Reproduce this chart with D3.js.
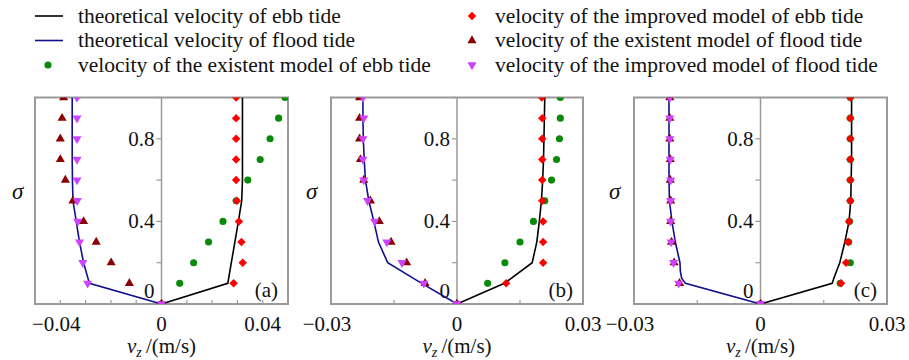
<!DOCTYPE html>
<html><head><meta charset="utf-8">
<script src="https://cdn.jsdelivr.net/npm/d3@7"></script>
</head>
<body style="margin:0;background:#fff">
<svg id="chart" width="909" height="360" style="display:block"></svg>
<script>
// ---------- data ----------
const sigmaPts = [0, 0.1, 0.2, 0.3, 0.4, 0.5, 0.6, 0.7, 0.8, 0.9, 1.0];
const sigmaTheoC = [0, 0.1, 0.125, 0.157, 0.2, 0.3, 0.4, 0.5, 0.6, 0.7, 0.8, 0.9, 1.0];

// panel (a)
const ebbTheoA    = [0, 0.0262, 0.0276, 0.029, 0.0304, 0.0317, 0.032, 0.032, 0.032, 0.032, 0.032];
const floodTheoA  = [0, -0.0285, -0.0308, -0.0324, -0.0337, -0.035, -0.0352, -0.0353, -0.0353, -0.0353, -0.0353];
const ebbExistA   = [0, 0.0072, 0.0127, 0.0186, 0.0243, 0.0295, 0.0341, 0.039, 0.0429, 0.0463, 0.0488];
const ebbImprA    = [0, 0.0285, 0.0321, 0.0316, 0.0306, 0.0298, 0.0295, 0.0295, 0.0295, 0.0295, 0.0295];
const floodExistA = [0, -0.0127, -0.0199, -0.0258, -0.0308, -0.035, -0.038, -0.040, -0.040, -0.0393, -0.0387];
const floodImprA  = [0, -0.0292, -0.0311, -0.0324, -0.0331, -0.0333, -0.0334, -0.0334, -0.0334, -0.0334, -0.0334];

// panel (b)
const ebbTheoB    = [0, 0.0113, 0.0179, 0.019, 0.0196, 0.0201, 0.0204, 0.0206, 0.0207, 0.0208, 0.0209];
const floodTheoB  = [0, -0.0084, -0.0165, -0.0187, -0.0198, -0.021, -0.0218, -0.0221, -0.0223, -0.0224, -0.0224];
const ebbExistB   = [0, 0.0073, 0.0114, 0.015, 0.0182, 0.0209, 0.0225, 0.0237, 0.0244, 0.0246, 0.0246];
const ebbImprB    = [0, 0.0117, 0.0205, 0.0205, 0.0205, 0.0203, 0.0203, 0.0203, 0.0203, 0.0203, 0.0202];
const floodExistB = [0, -0.0076, -0.012, -0.0157, -0.0185, -0.0206, -0.0222, -0.023, -0.0232, -0.0232, -0.0232];
const floodImprB  = [0, -0.0079, -0.0131, -0.0167, -0.0196, -0.0213, -0.0222, -0.0224, -0.0224, -0.0222, -0.0224];

// panel (c)
const ebbTheoC    = [0, 0.017, 0.0174, 0.018, 0.0188, 0.02, 0.021, 0.0214, 0.0215, 0.0216, 0.0216, 0.0216, 0.0216];
const floodTheoC  = [0, -0.0178, -0.0187, -0.019, -0.0191, -0.0202, -0.021, -0.0216, -0.0217, -0.0217, -0.0217, -0.0217, -0.0217];
const ebbExistC   = [0, 0.0189, 0.0213, 0.0209, 0.0211, 0.0213, 0.0213, 0.0213, 0.0213, 0.0213, 0.0213];
const ebbImprC    = [0, 0.0191, 0.0203, 0.0208, 0.021, 0.0213, 0.0213, 0.0213, 0.0213, 0.0213, 0.0213];
const floodExistC = [0, -0.0192, -0.0205, -0.0211, -0.0213, -0.0213, -0.0214, -0.0214, -0.0215, -0.0215, -0.0215];
const floodImprC  = [0, -0.0194, -0.0206, -0.0212, -0.0213, -0.0213, -0.0213, -0.0214, -0.0215, -0.0215, -0.0215];

const xTickLabelsA = [-0.04, 0, 0.04];
const xTickLabelsBC = [-0.03, 0, 0.03];
const yTickLabels = [0, 0.4, 0.8];
const panelLabels = ["(a)", "(b)", "(c)"];

const legendLeft = ["theoretical velocity of ebb tide", "theoretical velocity of flood tide", "velocity of the existent model of ebb tide"];
const legendRight = ["velocity of the improved model of ebb tide", "velocity of the existent model of flood tide", "velocity of the improved model of flood tide"];

// ---------- styles ----------
const C = {ebbLine:"#000000", floodLine:"#10108a", green:"#0a8a0a", red:"#ff0000", brown:"#8b0000", magenta:"#cc44ff", frame:"#9a9a9a"};
const FS = "21px";
const FONT = '"Liberation Serif"';

const svg = d3.select("#chart");
function txt(sel) {
  sel.style("font-family", FONT).style("font-size", FS).attr("fill", "#111");
}

const panels = [
  {x0:35, x1:288, dom:[-0.05,0.05], minor:0.01, labels:xTickLabelsA, lab:panelLabels[0], sigX:12,
   ebbT:ebbTheoA, floT:floodTheoA, sT:sigmaPts, ge:ebbExistA, re:ebbImprA, bf:floodExistA, mf:floodImprA},
  {x0:331, x1:583, dom:[-0.03,0.03], minor:0.015, labels:xTickLabelsBC, lab:panelLabels[1], sigX:306,
   ebbT:ebbTheoB, floT:floodTheoB, sT:sigmaPts, ge:ebbExistB, re:ebbImprB, bf:floodExistB, mf:floodImprB},
  {x0:634, x1:887, dom:[-0.03,0.03], minor:0.015, labels:xTickLabelsBC, lab:panelLabels[2], sigX:609,
   ebbT:ebbTheoC, floT:floodTheoC, sT:sigmaTheoC, ge:ebbExistC, re:ebbImprC, bf:floodExistC, mf:floodImprC}
];

const yTop = 97.5, yBot = 304;
const fmt = v => v === 0 ? "0" : (v < 0 ? "\u2212" + Math.abs(v) : String(v));

panels.forEach((p, i) => {
  const x = d3.scaleLinear().domain(p.dom).range([p.x0, p.x1]);
  const y = d3.scaleLinear().domain([0, 1]).range([yBot, yTop]);
  const g = svg.append("g");
  const clipId = "clip" + i;
  svg.append("defs").append("clipPath").attr("id", clipId)
    .append("rect").attr("x", p.x0).attr("y", yTop).attr("width", p.x1 - p.x0).attr("height", yBot - yTop);

  // x-axis minor ticks (inward)
  const nT = Math.round((p.dom[1] - p.dom[0]) / p.minor);
  const ticks = d3.range(nT + 1).map(k => p.dom[0] + k * p.minor);
  g.selectAll(".xt").data(ticks).join("line")
    .attr("x1", d => x(d)).attr("x2", d => x(d)).attr("y1", yBot).attr("y2", yBot - 4)
    .attr("stroke", C.frame).attr("stroke-width", 1.2);

  // central y axis
  g.append("line").attr("x1", x(0)).attr("x2", x(0)).attr("y1", yTop).attr("y2", yBot)
    .attr("stroke", C.frame).attr("stroke-width", 1.5);
  const yt = d3.range(0, 1.01, 0.2);
  g.selectAll(".yt").data(yt).join("line")
    .attr("x1", x(0) - 5).attr("x2", x(0)).attr("y1", d => y(d)).attr("y2", d => y(d))
    .attr("stroke", C.frame).attr("stroke-width", 1.2);
  g.selectAll(".yl").data(yTickLabels).join("text")
    .attr("x", x(0) - 7).attr("y", d => d === 0 ? y(d) - 6 : y(d) + 7)
    .attr("text-anchor", "end").call(txt)
    .text(d => String(d));

  // frame
  g.append("rect").attr("x", p.x0).attr("y", yTop).attr("width", p.x1 - p.x0).attr("height", yBot - yTop)
    .attr("fill", "none").attr("stroke", C.frame).attr("stroke-width", 2);

  // x tick labels
  g.selectAll(".xl").data(p.labels).join("text")
    .attr("x", d => x(d) - (d < 0 ? 4 : 0)).attr("y", 331).attr("text-anchor", "middle")
    .call(txt).text(fmt);

  // x axis title
  const t = g.append("text").attr("x", x(0)).attr("y", 353).attr("text-anchor", "middle").call(txt);
  t.append("tspan").style("font-style", "italic").text("v");
  t.append("tspan").style("font-style", "italic").style("font-size", "14px").attr("dy", 4).text("z");
  t.append("tspan").attr("dy", -4).text("\u2009/(m/s)");

  // sigma label
  g.append("text").attr("x", p.sigX).attr("y", 199).call(txt);
  g.select("text:last-child").style("font-size", "23px").style("font-style", "italic").text("\u03c3");

  // panel label
  g.append("text").attr("x", p.x1 - 10).attr("y", 297).attr("text-anchor", "end").call(txt);
  g.select("text:last-child").text(p.lab);

  const plot = g.append("g").attr("clip-path", `url(#${clipId})`);
  const line = d3.line().x(d => x(d[0])).y(d => y(d[1]));
  plot.append("path").datum(p.ebbT.map((v, k) => [v, p.sT[k]])).attr("d", line)
    .attr("fill", "none").attr("stroke", C.ebbLine).attr("stroke-width", 1.6);
  plot.append("path").datum(p.floT.map((v, k) => [v, p.sT[k]])).attr("d", line)
    .attr("fill", "none").attr("stroke", C.floodLine).attr("stroke-width", 1.6);

  const sym = (type, size) => d3.symbol().type(type).size(size)();
  const series = [
    {vals:p.ge, color:C.green, path:sym(d3.symbolCircle, 40), rot:0},
    {vals:p.re, color:C.red, path:sym(d3.symbolSquare, 36), rot:45},
    {vals:p.bf, color:C.brown, path:sym(d3.symbolTriangle, 36), rot:0},
    {vals:p.mf, color:C.magenta, path:sym(d3.symbolTriangle, 36), rot:180}
  ];
  series.forEach(s => {
    plot.append("g").selectAll("path").data(s.vals.map((v, k) => [v, sigmaPts[k]])).join("path")
      .attr("d", s.path).attr("fill", s.color)
      .attr("transform", d => `translate(${x(d[0])},${y(d[1])}) rotate(${s.rot})`);
  });
});

// ---------- legend ----------
const LFS = "21.5px";
const lg = svg.append("g");
const rowY = [16, 40.5, 65];
lg.append("line").attr("x1", 35).attr("x2", 63).attr("y1", rowY[0]).attr("y2", rowY[0]).attr("stroke", C.ebbLine).attr("stroke-width", 1.6);
lg.append("line").attr("x1", 35).attr("x2", 63).attr("y1", rowY[1]).attr("y2", rowY[1]).attr("stroke", C.floodLine).attr("stroke-width", 1.6);
lg.append("path").attr("d", d3.symbol().type(d3.symbolCircle).size(40)()).attr("fill", C.green).attr("transform", `translate(48,${rowY[2]})`);
legendLeft.forEach((s, k) => lg.append("text").attr("x", 78).attr("y", rowY[k] + 6.5).call(txt));
lg.selectAll("text").data(legendLeft).style("font-size", LFS).text(d => d);
lg.append("path").attr("d", d3.symbol().type(d3.symbolSquare).size(36)()).attr("fill", C.red).attr("transform", `translate(472,${rowY[0]}) rotate(45)`);
lg.append("path").attr("d", d3.symbol().type(d3.symbolTriangle).size(36)()).attr("fill", C.brown).attr("transform", `translate(472,${rowY[1]})`);
lg.append("path").attr("d", d3.symbol().type(d3.symbolTriangle).size(36)()).attr("fill", C.magenta).attr("transform", `translate(472,${rowY[2]}) rotate(180)`);
const lgR = svg.append("g");
legendRight.forEach((s, k) => lgR.append("text").attr("x", 495).attr("y", rowY[k] + 6.5).call(txt));
lgR.selectAll("text").data(legendRight).style("font-size", LFS).text(d => d);
</script>
</body></html>
